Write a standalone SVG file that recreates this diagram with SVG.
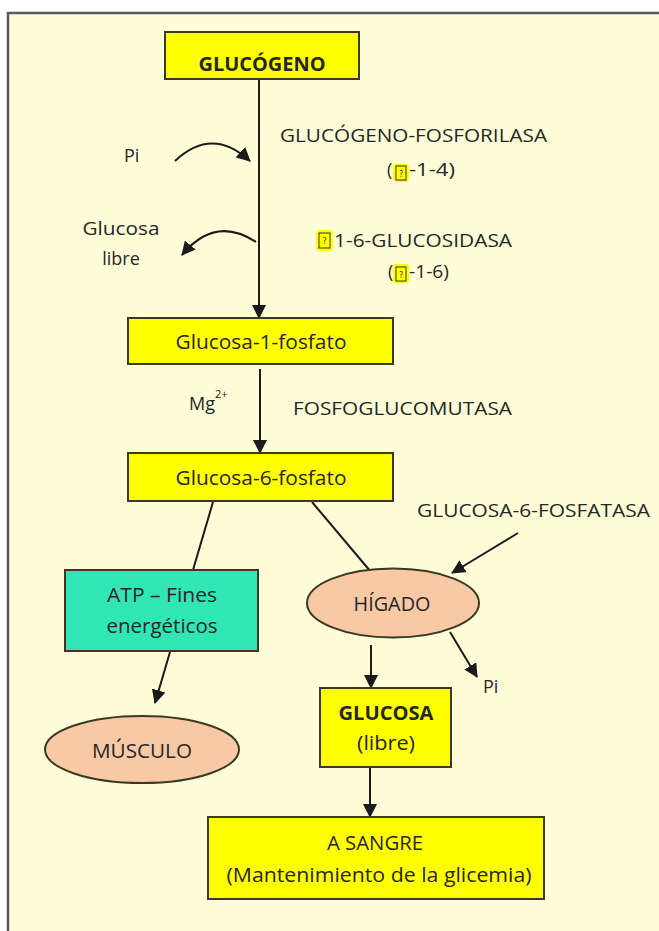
<svg xmlns="http://www.w3.org/2000/svg" width="659" height="931" viewBox="0 0 659 931">
  <style>
    .box { fill: #ffff00; stroke: #3a3a22; stroke-width: 2; }
    .energy { fill: #2fe6b4; stroke: #3a3a22; stroke-width: 2; }
    .organ { fill: #f9c9a6; stroke: #3a3a22; stroke-width: 2; }
    .t { font-family: "Open Sans", "Liberation Sans", sans-serif; fill: #262626; }
    .node { font-size: 20px; text-anchor: middle; }
    .bold { font-weight: bold; }
    .note { font-size: 18px; }
    .mid { text-anchor: middle; }
    .edge { stroke: #1a1a1a; stroke-width: 2; fill: none; }
    .tofu-bg { fill: #ffff00; }
    .tofu { fill: none; stroke: #333; stroke-width: 1; }
    .tofu-q { font-family: "DejaVu Sans", sans-serif; font-size: 8px; fill: #333; text-anchor: middle; }
  </style>
  <defs>
    <marker id="arrow" markerUnits="userSpaceOnUse" markerWidth="14" markerHeight="14" viewBox="0 0 14 14" refX="13" refY="7" orient="auto">
      <path d="M0,0 L14,7 L0,14 Z" fill="#1a1a1a"/>
    </marker>
  </defs>

  <!-- page frame -->
  <rect x="0" y="0" width="659" height="931" fill="#ffffff"/>
  <rect x="8" y="13" width="700" height="1000" fill="#fefdd8" stroke="#5a5a5a" stroke-width="2.5"/>

  <!-- connectors -->
  <g id="connectors">
    <line class="edge" x1="259" y1="80" x2="259" y2="318" marker-end="url(#arrow)"/>
    <path class="edge" d="M175,161 Q212,126 250,161" marker-end="url(#arrow)"/>
    <path class="edge" d="M256,242 Q215,215 182,255" marker-end="url(#arrow)"/>
    <line class="edge" x1="260" y1="369" x2="260" y2="453" marker-end="url(#arrow)"/>
    <line class="edge" x1="213" y1="502" x2="193" y2="570"/>
    <line class="edge" x1="312" y1="502" x2="371" y2="572"/>
    <line class="edge" x1="518" y1="533" x2="452" y2="573" marker-end="url(#arrow)"/>
    <line class="edge" x1="450" y1="632" x2="477" y2="677" marker-end="url(#arrow)"/>
    <line class="edge" x1="371" y1="645" x2="371" y2="688" marker-end="url(#arrow)"/>
    <line class="edge" x1="170" y1="652" x2="155" y2="703" marker-end="url(#arrow)"/>
    <line class="edge" x1="370" y1="768" x2="370" y2="817" marker-end="url(#arrow)"/>
  </g>

  <!-- annotations -->
  <g id="enzyme-phosphorylase">
    <text class="t note" x="280" y="142" textLength="267" lengthAdjust="spacingAndGlyphs">GLUCÓGENO-FOSFORILASA</text>
    <text class="t note" x="387" y="176">(</text>
    <rect class="tofu-bg" x="393" y="164" width="16" height="18" rx="3"/>
    <rect class="tofu" x="396" y="166" width="10" height="14"/>
    <text class="tofu-q" x="401" y="177">?</text>
    <text class="t note" x="409" y="176" textLength="46" lengthAdjust="spacingAndGlyphs">-1-4)</text>
  </g>
  <g id="enzyme-glucosidase">
    <rect class="tofu-bg" x="316" y="230" width="17" height="21" rx="3"/>
    <rect class="tofu" x="319" y="233" width="11" height="15"/>
    <text class="tofu-q" x="324.5" y="244">?</text>
    <text class="t note" x="334" y="247" textLength="178" lengthAdjust="spacingAndGlyphs">1-6-GLUCOSIDASA</text>
    <text class="t note" x="388" y="278">(</text>
    <rect class="tofu-bg" x="393" y="264" width="16" height="19" rx="3"/>
    <rect class="tofu" x="396" y="267" width="10" height="14"/>
    <text class="tofu-q" x="401" y="278">?</text>
    <text class="t note" x="409" y="278" textLength="40" lengthAdjust="spacingAndGlyphs">-1-6)</text>
  </g>
  <g id="pi-in">
    <text class="t note" x="124" y="162">Pi</text>
  </g>
  <g id="free-glucose">
    <text class="t note mid" x="121" y="235" textLength="77" lengthAdjust="spacingAndGlyphs">Glucosa</text>
    <text class="t note mid" x="121" y="265">libre</text>
  </g>
  <g id="mg">
    <text class="t note" x="189" y="410">Mg<tspan font-size="11" dy="-12">2+</tspan></text>
  </g>
  <g id="enzyme-mutase">
    <text class="t note" x="293" y="415" textLength="219" lengthAdjust="spacingAndGlyphs">FOSFOGLUCOMUTASA</text>
  </g>
  <g id="enzyme-phosphatase">
    <text class="t note" x="417" y="517" textLength="233" lengthAdjust="spacingAndGlyphs">GLUCOSA-6-FOSFATASA</text>
  </g>
  <g id="pi-out">
    <text class="t note" x="483" y="693">Pi</text>
  </g>

  <!-- nodes -->
  <g id="glucogeno">
    <rect class="box" x="165" y="32" width="194" height="47"/>
    <text class="t node bold" x="262" y="71" textLength="127" lengthAdjust="spacingAndGlyphs">GLUCÓGENO</text>
  </g>
  <g id="glucosa-1-fosfato">
    <rect class="box" x="128" y="318" width="265" height="46"/>
    <text class="t node" x="261" y="349" textLength="171" lengthAdjust="spacingAndGlyphs">Glucosa-1-fosfato</text>
  </g>
  <g id="glucosa-6-fosfato">
    <rect class="box" x="128" y="453" width="265" height="48"/>
    <text class="t node" x="261" y="485" textLength="171" lengthAdjust="spacingAndGlyphs">Glucosa-6-fosfato</text>
  </g>
  <g id="atp">
    <rect class="energy" x="65" y="570" width="193" height="81"/>
    <text class="t node" x="162" y="602" textLength="110" lengthAdjust="spacingAndGlyphs">ATP – Fines</text>
    <text class="t node" x="162" y="633" textLength="111" lengthAdjust="spacingAndGlyphs">energéticos</text>
  </g>
  <g id="higado">
    <ellipse class="organ" cx="393" cy="603" rx="86" ry="34.5"/>
    <text class="t node" x="392" y="611" textLength="77" lengthAdjust="spacingAndGlyphs">HÍGADO</text>
  </g>
  <g id="musculo">
    <ellipse class="organ" cx="142" cy="749.5" rx="97" ry="33.5"/>
    <text class="t node" x="142" y="758" textLength="100" lengthAdjust="spacingAndGlyphs">MÚSCULO</text>
  </g>
  <g id="glucosa">
    <rect class="box" x="320" y="688" width="131" height="79"/>
    <text class="t node bold" x="386" y="720" textLength="95" lengthAdjust="spacingAndGlyphs">GLUCOSA</text>
    <text class="t node" x="386" y="750" textLength="58" lengthAdjust="spacingAndGlyphs">(libre)</text>
  </g>
  <g id="a-sangre">
    <rect class="box" x="208" y="817" width="336" height="82"/>
    <text class="t node" x="375" y="850" textLength="96" lengthAdjust="spacingAndGlyphs">A SANGRE</text>
    <text class="t node" x="379" y="882" textLength="305" lengthAdjust="spacingAndGlyphs">(Mantenimiento de la glicemia)</text>
  </g>
</svg>
